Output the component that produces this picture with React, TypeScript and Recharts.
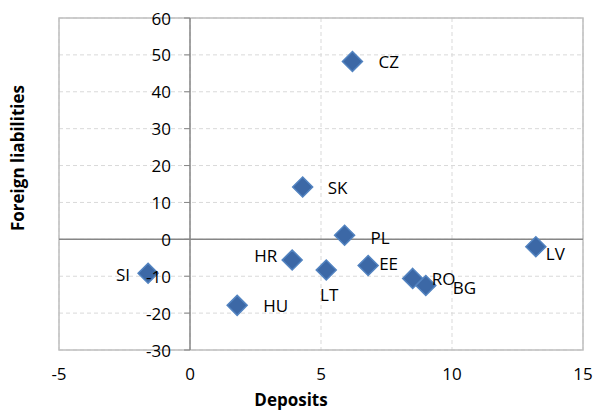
import React from "react";
import {
  CartesianGrid,
  LabelList,
  ReferenceArea,
  ReferenceLine,
  Scatter,
  ScatterChart,
  XAxis,
  YAxis,
} from "recharts";

const countries = ["CZ", "SK", "PL", "LV", "HR", "LT", "EE", "RO", "BG", "SI", "HU"];
const deposits = [6.2, 4.3, 5.9, 13.2, 3.9, 5.2, 6.8, 8.5, 9.0, -1.6, 1.8];
const foreignLiabilities = [48.2, 14.2, 1.1, -2.0, -5.6, -8.3, -7.1, -10.6, -12.5, -9.2, -17.9];

const xTicks = [-5, 0, 5, 10, 15];
const yTicks = [-30, -20, -10, 0, 10, 20, 30, 40, 50, 60];

// label placement, Excel style (offset from marker centre)
const labelOffset: Record<string, [number, number, string]> = {
  CZ: [26, 0, "start"],
  SK: [25, 1, "start"],
  PL: [26, 2, "start"],
  LV: [10, 7, "start"],
  HR: [-15, -4, "end"],
  LT: [3, 25, "middle"],
  EE: [11, -2, "start"],
  RO: [19, 0, "start"],
  BG: [27, 2, "start"],
  SI: [-18, 1, "end"],
  HU: [26, 0, "start"],
};

const W = 596;
const H = 410;
const Y_AXIS_W = 59;
const X_AXIS_H = 60;
const MARGIN = { top: 18, right: 13, left: 0, bottom: 0 };
const PLOT_W = W - Y_AXIS_W - MARGIN.left - MARGIN.right;
const X_MIN = -5;
const X_MAX = 15;
const FONT = "'Open Sans', sans-serif";

const data = countries.map((name, i) => ({
  name,
  x: deposits[i],
  y: foreignLiabilities[i],
}));

// y ticks sit next to the vertical axis at x = 0
const yAxisX = MARGIN.left + Y_AXIS_W + (PLOT_W * (0 - X_MIN)) / (X_MAX - X_MIN);

function YTick(props: any) {
  const { y, payload } = props;
  return (
    <g>
      <line x1={yAxisX - 6} x2={yAxisX} y1={y} y2={y} stroke="#868686" strokeWidth={1} />
      <text
        x={yAxisX - 19}
        y={y}
        textAnchor="end"
        dominantBaseline="central"
        fontSize={17}
        fontFamily={FONT}
        fill="#000"
      >
        {payload.value}
      </text>
    </g>
  );
}

function Diamond(props: any) {
  const { cx, cy } = props;
  const r = 10;
  return (
    <polygon
      points={`${cx},${cy - r} ${cx + r},${cy} ${cx},${cy + r} ${cx - r},${cy}`}
      fill="#3c68a6"
      stroke="#5283c0"
      strokeWidth={1.5}
    />
  );
}

function PointLabel(props: any) {
  const { x, y, width, height, value } = props;
  const cx = x + width / 2;
  const cy = y + height / 2;
  const [dx, dy, anchor] = labelOffset[value] || [20, 0, "start"];
  return (
    <text
      x={cx + dx}
      y={cy + dy}
      textAnchor={anchor}
      dominantBaseline="central"
      fontSize={17}
      fontFamily={FONT}
      fill="#000"
    >
      {value}
    </text>
  );
}

export default function App() {
  return (
    <div style={{ position: "absolute", left: 0, top: 0, width: W, height: H, background: "#fff" }}>
      <ScatterChart width={W} height={H} margin={MARGIN}>
        <CartesianGrid stroke="#d9d9d9" strokeDasharray="4 3" />
        <XAxis
          type="number"
          dataKey="x"
          domain={[X_MIN, X_MAX]}
          ticks={xTicks}
          height={X_AXIS_H}
          axisLine={false}
          tickLine={false}
          tickMargin={12}
          tick={{ fontSize: 17, fontFamily: FONT, fill: "#000" }}
          label={({ viewBox }: any) => (
            <text
              x={viewBox.x + viewBox.width / 2 - 30}
              y={406}
              textAnchor="middle"
              fontSize={17}
              fontWeight="bold"
              fontFamily={FONT}
              fill="#000"
            >
              Deposits
            </text>
          )}
        />
        <YAxis
          type="number"
          dataKey="y"
          domain={[-30, 60]}
          ticks={yTicks}
          width={Y_AXIS_W}
          axisLine={false}
          tickLine={false}
          tick={<YTick />}
          label={() => (
            <text
              x={24}
              y={158}
              transform="rotate(-90, 24, 158)"
              textAnchor="middle"
              fontSize={17}
              fontWeight="bold"
              fontFamily={FONT}
              fill="#000"
            >
              Foreign liabilities
            </text>
          )}
        />
        <ReferenceArea x1={X_MIN} x2={X_MAX} y1={-30} y2={60} fill="none" stroke="#bfbfbf" strokeWidth={1.5} />
        <ReferenceLine y={0} stroke="#868686" strokeWidth={1.5} />
        <ReferenceLine x={0} stroke="#868686" strokeWidth={1.5} />
        <Scatter data={data} shape={<Diamond />} isAnimationActive={false}>
          <LabelList dataKey="name" content={<PointLabel />} />
        </Scatter>
      </ScatterChart>
    </div>
  );
}
